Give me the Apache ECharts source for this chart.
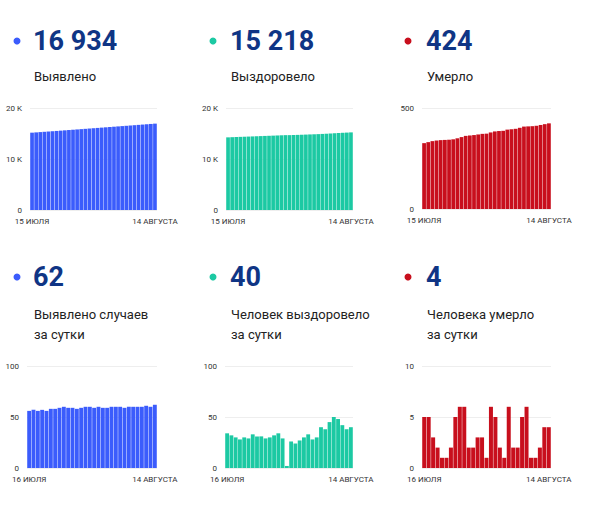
<!DOCTYPE html>
<html>
<head>
<meta charset="utf-8">
<script src="https://cdn.jsdelivr.net/npm/echarts@6.0.0/dist/echarts.min.js"></script>
<style>
    html, body { margin: 0; padding: 0; background: #fff; }
    #main { width: 595px; height: 507px; }
</style>
</head>
<body>
<div id="main"></div>
<script>
/* ============================
   DATOS
============================ */
const datesTop = [
    '15 ИЮЛЯ', '16 ИЮЛЯ', '17 ИЮЛЯ', '18 ИЮЛЯ', '19 ИЮЛЯ', '20 ИЮЛЯ', '21 ИЮЛЯ', '22 ИЮЛЯ',
    '23 ИЮЛЯ', '24 ИЮЛЯ', '25 ИЮЛЯ', '26 ИЮЛЯ', '27 ИЮЛЯ', '28 ИЮЛЯ', '29 ИЮЛЯ', '30 ИЮЛЯ',
    '31 ИЮЛЯ', '1 АВГУСТА', '2 АВГУСТА', '3 АВГУСТА', '4 АВГУСТА', '5 АВГУСТА', '6 АВГУСТА',
    '7 АВГУСТА', '8 АВГУСТА', '9 АВГУСТА', '10 АВГУСТА', '11 АВГУСТА', '12 АВГУСТА',
    '13 АВГУСТА', '14 АВГУСТА'
];
const datesBottom = datesTop.slice(1);
// в дневном графике смертей видно 29 столбцов
const datesDeaths = [
    '16 ИЮЛЯ', '17 ИЮЛЯ', '18 ИЮЛЯ', '19 ИЮЛЯ', '20 ИЮЛЯ', '21 ИЮЛЯ', '22 ИЮЛЯ', '23 ИЮЛЯ',
    '24 ИЮЛЯ', '25 ИЮЛЯ', '26 ИЮЛЯ', '27 ИЮЛЯ', '28 ИЮЛЯ', '29 ИЮЛЯ', '30 ИЮЛЯ', '31 ИЮЛЯ',
    '1 АВГУСТА', '2 АВГУСТА', '3 АВГУСТА', '4 АВГУСТА', '5 АВГУСТА', '6 АВГУСТА', '7 АВГУСТА',
    '8 АВГУСТА', '9 АВГУСТА', '10 АВГУСТА', '11 АВГУСТА', '12 АВГУСТА', '14 АВГУСТА'
];

const totalCases = [
    15163, 15219, 15276, 15332, 15389, 15445, 15503, 15561, 15620, 15680, 15739, 15798,
    15856, 15915, 15975, 16035, 16094, 16154, 16213, 16272, 16332, 16392, 16452, 16511,
    16571, 16631, 16691, 16751, 16812, 16872, 16934
];
const totalRecovered = [
    14245, 14279, 14311, 14341, 14369, 14399, 14428, 14461, 14492, 14523, 14552, 14582,
    14614, 14648, 14677, 14679, 14705, 14729, 14756, 14786, 14819, 14847, 14877, 14917,
    14955, 15000, 15050, 15098, 15140, 15178, 15218
];
const totalDeaths = [
    326, 331, 336, 339, 341, 342, 343, 345, 350, 356, 362, 364, 366, 369, 372, 373,
    379, 384, 386, 387, 393, 395, 397, 402, 408, 409, 410, 412, 416, 420, 424
];
const dailyCases = [
    56, 57, 56, 57, 56, 58, 58, 59, 60, 59, 59, 58, 59, 60, 60,
    59, 60, 59, 59, 60, 60, 60, 59, 60, 60, 60, 60, 61, 60, 62
];
const dailyRecovered = [
    34, 32, 30, 28, 30, 29, 33, 31, 31, 29, 30, 32, 34, 29, 2,
    26, 24, 27, 30, 33, 28, 30, 40, 38, 45, 50, 48, 42, 38, 40
];
const dailyDeaths = [
    5, 5, 3, 2, 1, 1, 2, 5, 6, 6, 2, 2, 3, 3, 1,
    6, 5, 2, 1, 6, 2, 2, 5, 6, 1, 1, 2, 4, 4
];

const headNumbers = ['16 934', '15 218', '424', '62', '40', '4'];
const headLabels = [
    'Выявлено', 'Выздоровело', 'Умерло',
    'Выявлено случаев\nза сутки', 'Человек выздоровело\nза сутки', 'Человека умерло\nза сутки'
];

const BLUE = '#3b5cfc';
const GREEN = '#1cc9a3';
const RED = '#c80f1d';
const NAVY = '#0f3585';

/* ============================
   PANELES
============================ */
const panels = [
    { grid: [30, 108, 127, 102], dates: datesTop, data: totalCases, color: BLUE, max: 20000, step: 10000, k: true },
    { grid: [226, 108, 127, 102], dates: datesTop, data: totalRecovered, color: GREEN, max: 20000, step: 10000, k: true },
    { grid: [422, 108, 129, 101], dates: datesTop, data: totalDeaths, color: RED, max: 500, step: 500 },
    { grid: [27, 366, 130, 102], dates: datesBottom, data: dailyCases, color: BLUE, max: 100, step: 50 },
    { grid: [225, 366, 128, 102], dates: datesBottom, data: dailyRecovered, color: GREEN, max: 100, step: 50 },
    { grid: [422, 366, 129, 102], dates: datesDeaths, data: dailyDeaths, color: RED, max: 10, step: 5 }
];

const colX = [33, 230, 426];
const dotX = [17, 213, 408];
const rowNumY = [41, 277];
const rowLabelY = [66, 304];

const option = {
    animation: false,
    grid: [], xAxis: [], yAxis: [], series: [],
    graphic: []
};

panels.forEach((p, i) => {
    const last = p.dates.length - 1;
    option.grid.push({ left: p.grid[0], top: p.grid[1], width: p.grid[2], height: p.grid[3] });
    option.xAxis.push({
        type: 'category', gridIndex: i, data: p.dates,
        axisLine: { show: false }, axisTick: { show: false },
        axisLabel: {
            interval: idx => idx === 0 || idx === last,
            color: '#333', fontSize: 8, fontFamily: 'Roboto', margin: 7
        }
    });
    option.yAxis.push({
        type: 'value', gridIndex: i, min: 0, max: p.max, interval: p.step,
        axisLine: { show: false }, axisTick: { show: false },
        splitLine: { lineStyle: { color: '#eeeeee' } },
        axisLabel: {
            color: '#333', fontSize: 8, fontFamily: 'Roboto', margin: 8,
            formatter: v => (p.k && v > 0) ? (v / 1000) + ' K' : String(v)
        }
    });
    option.series.push({
        type: 'bar', xAxisIndex: i, yAxisIndex: i, data: p.data,
        barCategoryGap: '10%', itemStyle: { color: p.color }
    });

    const col = i % 3, row = Math.floor(i / 3);
    option.graphic.push({
        type: 'circle', shape: { cx: dotX[col], cy: rowNumY[row], r: 3.5 },
        style: { fill: p.color }
    });
    option.graphic.push({
        type: 'text', x: colX[col], y: rowNumY[row],
        style: {
            text: headNumbers[i], fill: NAVY, verticalAlign: 'middle',
            font: 'bold 27px Roboto'
        }
    });
    option.graphic.push({
        type: 'text', x: colX[col] + 1, y: rowLabelY[row],
        style: {
            text: headLabels[i], fill: '#222', verticalAlign: 'top',
            font: '13px Roboto', lineHeight: 20
        }
    });
});

const myChart = echarts.init(document.getElementById('main'), null, { renderer: 'svg' });
myChart.setOption(option);
</script>
</body>
</html>
